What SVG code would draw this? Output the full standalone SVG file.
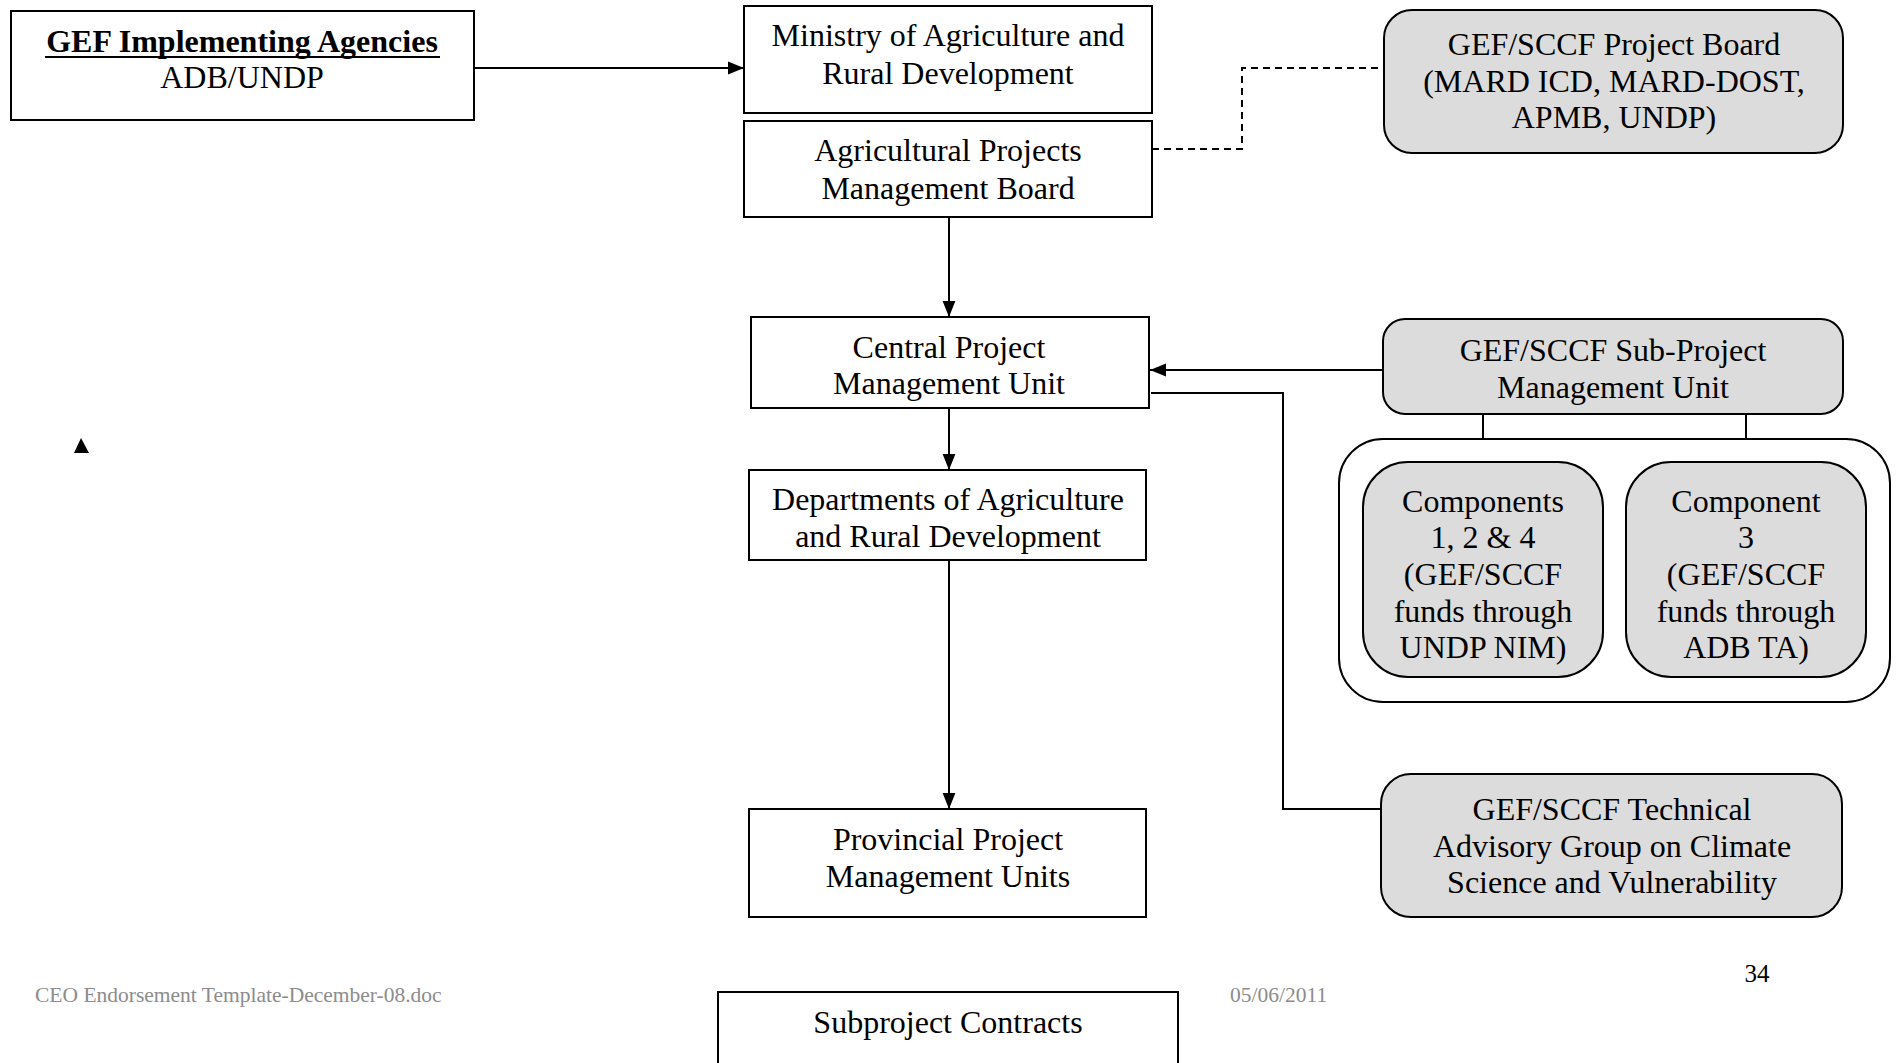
<svg xmlns="http://www.w3.org/2000/svg" width="1900" height="1063" viewBox="0 0 1900 1063">
<style>
.box{fill:#fff;stroke:#000;stroke-width:2}
.gbox{fill:#dcdcdc;stroke:#000;stroke-width:2}
.t{font-family:"Liberation Serif","Times New Roman",serif;font-size:32px;fill:#000;text-anchor:middle}
.ln{fill:none;stroke:#000;stroke-width:2}
.ft{font-family:"Liberation Serif","Times New Roman",serif;font-size:21.5px;fill:#8c8c8c}
</style>
<defs>
<marker id="ah2" viewBox="0 0 10 10" refX="10" refY="5" markerWidth="16" markerHeight="16" markerUnits="userSpaceOnUse" orient="auto">
<path d="M0,1 L10,5 L0,9 z" fill="#000"/>
</marker>
</defs>
<rect width="1900" height="1063" fill="#fff"/>

<g id="connectors">
<line class="ln" x1="474" y1="68" x2="744" y2="68" stroke-width="2.5" marker-end="url(#ah2)"/>
<polyline class="ln" points="1152,149 1242,149 1242,68 1384,68" stroke-dasharray="7,5" stroke-width="2"/>
<line class="ln" x1="949" y1="217" x2="949" y2="317" marker-end="url(#ah2)"/>
<line class="ln" x1="1384" y1="370" x2="1321" y2="370" stroke-width="1.5"/>
<line class="ln" x1="1321" y1="370" x2="1150" y2="370" stroke-width="3" marker-end="url(#ah2)"/>
<polyline class="ln" points="1151,393 1283,393 1283,809 1381,809"/>
<line class="ln" x1="949" y1="408" x2="949" y2="470" marker-end="url(#ah2)"/>
<line class="ln" x1="949" y1="560" x2="949" y2="809" marker-end="url(#ah2)"/>
<line class="ln" x1="1483" y1="414" x2="1483" y2="462"/>
<line class="ln" x1="1746" y1="414" x2="1746" y2="462"/>
</g>

<g id="gef-agencies">
<rect class="box" x="11" y="11" width="463" height="109"/>
<text class="t" x="242" y="52" font-weight="bold">GEF Implementing Agencies</text>
<line x1="45" y1="57" x2="440" y2="57" stroke="#000" stroke-width="2.2"/>
<text class="t" x="242" y="88">ADB/UNDP</text>
</g>

<g id="mard">
<rect class="box" x="744" y="6" width="408" height="107"/>
<text class="t" x="948" y="46">Ministry of Agriculture and</text>
<text class="t" x="948" y="84">Rural Development</text>
</g>

<g id="apmb">
<rect class="box" x="744" y="121" width="408" height="96"/>
<text class="t" x="948" y="161">Agricultural Projects</text>
<text class="t" x="948" y="199">Management Board</text>
</g>

<g id="project-board">
<rect class="gbox" x="1384" y="10" width="459" height="143" rx="28" ry="28"/>
<text class="t" x="1614" y="55">GEF/SCCF Project Board</text>
<text class="t" x="1614" y="92">(MARD ICD, MARD-DOST,</text>
<text class="t" x="1614" y="128">APMB, UNDP)</text>
</g>

<g id="cpmu">
<rect class="box" x="751" y="317" width="398" height="91"/>
<text class="t" x="949" y="358">Central Project</text>
<text class="t" x="949" y="394">Management Unit</text>
</g>

<g id="sub-pmu">
<rect class="gbox" x="1383" y="319" width="460" height="95" rx="22" ry="22"/>
<text class="t" x="1613" y="361">GEF/SCCF Sub-Project</text>
<text class="t" x="1613" y="398">Management Unit</text>
</g>

<g id="components-group">
<rect class="box" x="1339" y="439" width="551" height="263" rx="44" ry="44"/>
</g>

<g id="components-124">
<rect class="gbox" x="1363" y="462" width="240" height="215" rx="45" ry="45"/>
<text class="t" x="1483" y="512">Components</text>
<text class="t" x="1483" y="548">1, 2 &amp; 4</text>
<text class="t" x="1483" y="585">(GEF/SCCF</text>
<text class="t" x="1483" y="622">funds through</text>
<text class="t" x="1483" y="658">UNDP NIM)</text>
</g>

<g id="component-3">
<rect class="gbox" x="1626" y="462" width="240" height="215" rx="45" ry="45"/>
<text class="t" x="1746" y="512">Component</text>
<text class="t" x="1746" y="548">3</text>
<text class="t" x="1746" y="585">(GEF/SCCF</text>
<text class="t" x="1746" y="622">funds through</text>
<text class="t" x="1746" y="658">ADB TA)</text>
</g>

<g id="dard">
<rect class="box" x="749" y="470" width="397" height="90"/>
<text class="t" x="948" y="510">Departments of Agriculture</text>
<text class="t" x="948" y="547">and Rural Development</text>
</g>

<g id="ppmu">
<rect class="box" x="749" y="809" width="397" height="108"/>
<text class="t" x="948" y="850">Provincial Project</text>
<text class="t" x="948" y="887">Management Units</text>
</g>

<g id="tech-advisory">
<rect class="gbox" x="1381" y="774" width="461" height="143" rx="30" ry="30"/>
<text class="t" x="1612" y="820">GEF/SCCF Technical</text>
<text class="t" x="1612" y="857">Advisory Group on Climate</text>
<text class="t" x="1612" y="893">Science and Vulnerability</text>
</g>

<g id="subproject-contracts">
<rect class="box" x="718" y="992" width="460" height="90"/>
<text class="t" x="948" y="1033">Subproject Contracts</text>
</g>

<polygon points="81,438 74,453 89,453" fill="#000"/>

<text class="ft" x="35" y="1002">CEO Endorsement Template-December-08.doc</text>
<text class="ft" x="1230" y="1002">05/06/2011</text>
<text x="1757" y="982" font-family="'Liberation Serif','Times New Roman',serif" font-size="25" fill="#000" text-anchor="middle">34</text>
</svg>
